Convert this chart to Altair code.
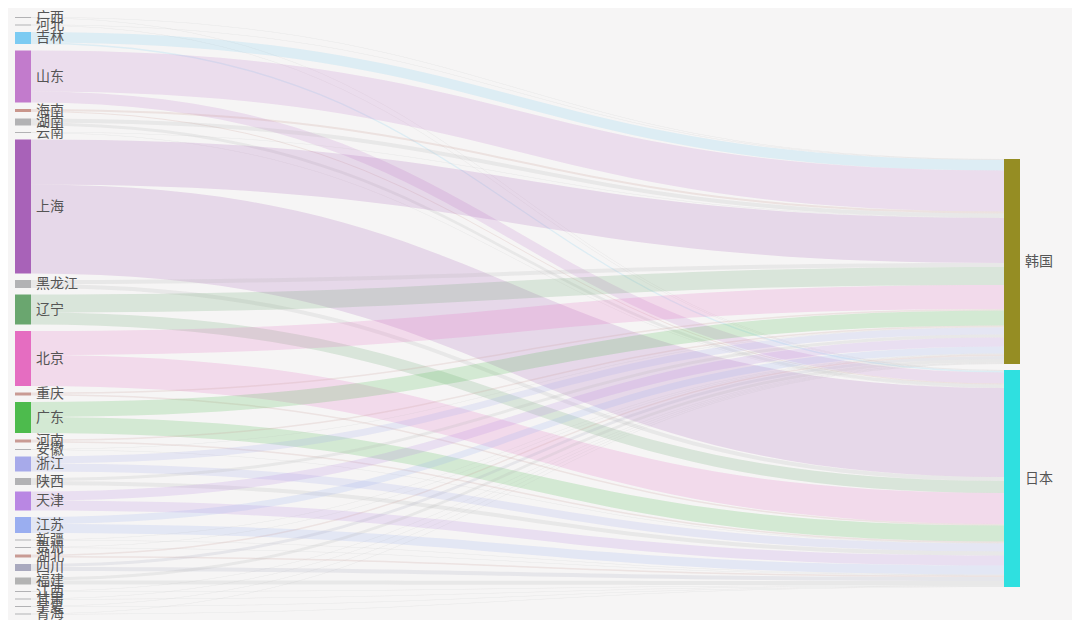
import altair as alt
import pandas as pd
import numpy as np

# ---------------- data ----------------
provinces = ["广西", "河北", "吉林", "山东", "海南", "湖南", "云南", "上海", "黑龙江", "辽宁",
             "北京", "重庆", "广东", "河南", "安徽", "浙江", "陕西", "天津", "江苏", "新疆",
             "贵州", "湖北", "四川", "福建", "江西", "甘肃", "宁夏", "青海"]
to_korea = [0.5, 0.5, 10.5, 41, 2, 4, 0.5, 45, 4, 18,
            24, 1.5, 15, 1.5, 0.5, 7, 3, 9, 7, 0.5,
            0.5, 1.5, 3, 3, 0.5, 0.5, 0.5, 0.5]
to_japan = [0.5, 0.5, 1.5, 11, 1, 3, 0.5, 89, 4, 12,
            31, 1.5, 16, 1.5, 0.5, 8, 4, 10, 9, 0.5,
            0.5, 1.5, 4, 4, 0.5, 0.5, 0.5, 0.5]
targets = ["韩国", "日本"]
province_colors = ["#b2b2b4", "#b2b2b4", "#7ccbf2", "#c27bcc", "#c9968c", "#b2b2b4", "#b2b2b4",
                   "#a862b8", "#b2b2b4", "#6aa66f", "#e56dc1", "#c99b94", "#4dbb4d", "#c99b94",
                   "#b2b2b4", "#a7aaea", "#b2b2b4", "#b987e3", "#9aaef0", "#b2b2b4", "#b2b2b4",
                   "#c99b94", "#a9a9be", "#b3b3b3", "#b2b2b4", "#b2b2b4", "#b2b2b4", "#b2b2b4"]
target_colors = ["#958d23", "#2fe0e0"]

# ---------------- layout parameters ----------------
W, H = 1064, 612
node_w = 16
left_x0 = 7
right_x0 = 996
node_gap = 6.5
left_top = 9
right_gap = 6
right_top = 151

values = {"韩国": to_korea, "日本": to_japan}

# node rectangles
nodes = []
y = left_top
for i, p in enumerate(provinces):
    v = to_korea[i] + to_japan[i]
    nodes.append({"name": p, "x0": left_x0, "x1": left_x0 + node_w, "y0": y, "y1": y + v})
    y += v + node_gap
y = right_top
for t in targets:
    v = sum(values[t])
    nodes.append({"name": t, "x0": right_x0, "x1": right_x0 + node_w, "y0": y, "y1": y + v})
    y += v + right_gap
nodes_df = pd.DataFrame(nodes)
nodes_df["ym"] = (nodes_df["y0"] + nodes_df["y1"]) / 2
nodes_df["xl"] = nodes_df["x1"] + 5

node_top = {r["name"]: r["y0"] for r in nodes}

# link bands (cubic bezier, curveness 0.5)
src_off = dict(node_top)
tgt_off = dict(node_top)
ts = np.linspace(0, 1, 41)
xa, xb = left_x0 + node_w, right_x0
rows = []
for i, p in enumerate(provinces):
    for t in targets:
        v = values[t][i]
        sy = src_off[p]
        ty = tgt_off[t]
        src_off[p] += v
        tgt_off[t] += v
        for s in ts:
            bx = 1.5 * s * (1 - s) ** 2 + 1.5 * s ** 2 * (1 - s) + s ** 3
            by = 3 * s ** 2 * (1 - s) + s ** 3
            yy = sy + (ty - sy) * by
            rows.append({"link": f"{p}-{t}", "source": p, "x": xa + (xb - xa) * bx,
                         "y": yy, "y2": yy + v})
links_df = pd.DataFrame(rows)

all_names = provinces + targets
all_colors = province_colors + target_colors
color_scale = alt.Scale(domain=all_names, range=all_colors)
xs = alt.Scale(domain=[0, W], nice=False, zero=False)
ys = alt.Scale(domain=[0, H], reverse=True, nice=False, zero=False)

links = alt.Chart(links_df).mark_area(opacity=0.2, interpolate="linear", orient="vertical").encode(
    x=alt.X("x:Q", scale=xs, axis=None),
    y=alt.Y("y:Q", scale=ys, axis=None, stack=None),
    y2="y2:Q",
    detail="link:N",
    color=alt.Color("source:N", scale=color_scale, legend=None),
)

rects = alt.Chart(nodes_df).mark_rect().encode(
    x=alt.X("x0:Q", scale=xs, axis=None),
    x2="x1:Q",
    y=alt.Y("y0:Q", scale=ys, axis=None),
    y2="y1:Q",
    color=alt.Color("name:N", scale=color_scale, legend=None),
)

labels = alt.Chart(nodes_df).mark_text(
    align="left", baseline="middle", fontSize=14, font="Noto Sans CJK SC", color="#555555"
).encode(
    x=alt.X("xl:Q", scale=xs, axis=None),
    y=alt.Y("ym:Q", scale=ys, axis=None),
    text="name:N",
)

chart = alt.layer(links, rects, labels).properties(
    width=W, height=H, background="#f6f5f5", padding=0,
    autosize=alt.AutoSizeParams(type="none"),
).configure_view(stroke=None)

chart.save("out.html", embed_options={"renderer": "svg", "actions": False})
